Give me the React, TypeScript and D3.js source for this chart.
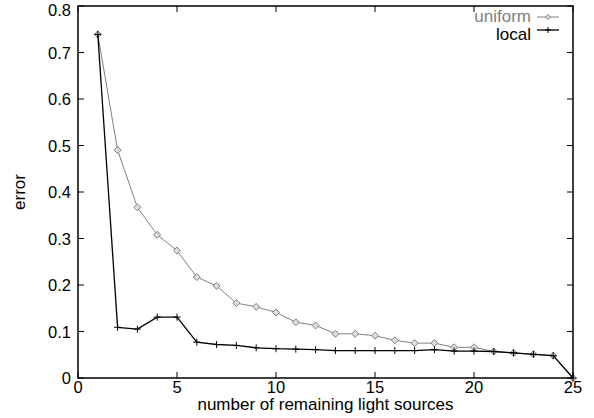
import React from "react";
import * as d3 from "d3";

const xs = [1, 2, 3, 4, 5, 6, 7, 8, 9, 10, 11, 12, 13, 14, 15, 16, 17, 18, 19, 20, 21, 22, 23, 24, 25];
const uniform = [0.739, 0.49, 0.367, 0.308, 0.274, 0.217, 0.198, 0.161, 0.153, 0.141, 0.12, 0.113, 0.095, 0.095, 0.091, 0.081, 0.075, 0.075, 0.066, 0.066, 0.057, 0.054, 0.051, 0.048, 0];
const local = [0.739, 0.109, 0.105, 0.131, 0.131, 0.077, 0.072, 0.07, 0.065, 0.063, 0.062, 0.061, 0.059, 0.059, 0.059, 0.059, 0.059, 0.061, 0.058, 0.058, 0.057, 0.054, 0.051, 0.048, 0];
const xTicks = [0, 5, 10, 15, 20, 25];
const yTicks = [0, 0.1, 0.2, 0.3, 0.4, 0.5, 0.6, 0.7, 0.8];

const W = 594;
const H = 418;
const margin = { top: 6, right: 21, bottom: 40, left: 78 };
const FONT = "'Liberation Sans', Arial, Helvetica, sans-serif";
const GREY = "#808080";

export default function App() {
  const x = d3.scaleLinear().domain([0, 25]).range([margin.left, W - margin.right]);
  const y = d3.scaleLinear().domain([0, 0.8]).range([H - margin.bottom, margin.top]);
  const line = d3
    .line<number>()
    .x((d, i) => x(xs[i]))
    .y((d) => y(d));
  const tick = 6;
  const x0 = x(0), x1 = x(25), y0 = y(0), y1 = y(0.8);

  const diamond = (cx: number, cy: number, r = 3.5) =>
    `M${cx},${cy - r}L${cx + r},${cy}L${cx},${cy + r}L${cx - r},${cy}Z`;
  const plus = (cx: number, cy: number, r = 3.5) =>
    `M${cx - r},${cy}H${cx + r}M${cx},${cy - r}V${cy + r}`;

  return (
    <svg
      width={W}
      height={H}
      style={{ position: "absolute", left: 0, top: 0, background: "#fff" }}
      fontFamily={FONT}
    >
      {/* ticks */}
      <g stroke="#000" strokeWidth={1}>
        {xTicks.map((t) => (
          <g key={"xt" + t}>
            <line x1={x(t)} x2={x(t)} y1={y0} y2={y0 - tick} />
            <line x1={x(t)} x2={x(t)} y1={y1} y2={y1 + tick} />
          </g>
        ))}
        {yTicks.map((t) => (
          <g key={"yt" + t}>
            <line x1={x0} x2={x0 + tick} y1={y(t)} y2={y(t)} />
            <line x1={x1} x2={x1 - tick} y1={y(t)} y2={y(t)} />
          </g>
        ))}
      </g>

      {/* tick labels */}
      <g fontSize={16.5} fill="#000">
        {xTicks.map((t) => (
          <text key={"xl" + t} x={x(t)} y={y0 + 15} textAnchor="middle">
            {t}
          </text>
        ))}
        {yTicks.map((t) => (
          <text key={"yl" + t} x={x0 - 7} y={Math.max(y(t) + 6, 16)} textAnchor="end">
            {t === 0 ? "0" : t.toFixed(1)}
          </text>
        ))}
      </g>

      {/* axis labels */}
      <text x={(x0 + x1) / 2} y={410} textAnchor="middle" fontSize={17}>
        number of remaining light sources
      </text>
      <text
        transform={`translate(25, ${(y0 + y1) / 2}) rotate(-90)`}
        textAnchor="middle"
        fontSize={17}
      >
        error
      </text>

      {/* series: uniform */}
      <path d={line(uniform) ?? ""} fill="none" stroke={GREY} strokeWidth={1} />
      {uniform.map((v, i) => (
        <path key={"u" + i} d={diamond(x(xs[i]), y(v))} fill="#ddd" stroke={GREY} strokeWidth={1} />
      ))}

      {/* series: local */}
      <path d={line(local) ?? ""} fill="none" stroke="#000" strokeWidth={1.3} />
      {local.map((v, i) => (
        <path key={"l" + i} d={plus(x(xs[i]), y(v))} stroke="#000" strokeWidth={1} />
      ))}

      {/* legend */}
      <g fontSize={17}>
        <text x={531} y={22} textAnchor="end" fill={GREY}>
          uniform
        </text>
        <line x1={537} x2={559} y1={17} y2={17} stroke={GREY} />
        <path d={diamond(548, 17, 2.5)} fill="#ddd" stroke={GREY} />
        <text x={531} y={40} textAnchor="end" fill="#000">
          local
        </text>
        <line x1={537} x2={559} y1={30} y2={30} stroke="#000" strokeWidth={1.3} />
        <path d={plus(548, 30, 3)} stroke="#000" />
      </g>

      {/* frame */}
      <rect x={x0} y={y1} width={x1 - x0} height={y0 - y1} fill="none" stroke="#000" strokeWidth={1.5} />
    </svg>
  );
}
